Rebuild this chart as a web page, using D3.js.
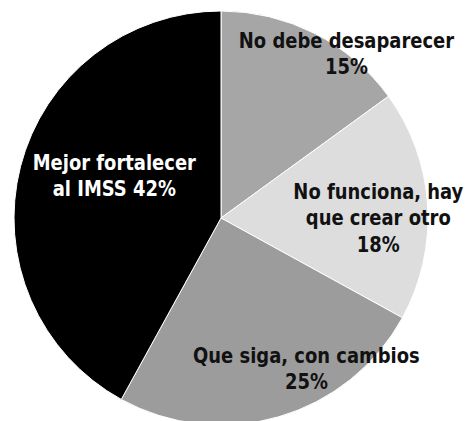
<!DOCTYPE html>
<html>
<head>
<meta charset="utf-8">
<script src="https://cdn.jsdelivr.net/npm/d3@7"></script>
<style>
  body { margin: 0; background: #fff; }
  text { font-family: "DejaVu Sans Condensed", "DejaVu Sans", sans-serif; font-weight: bold; }
</style>
</head>
<body>
<svg id="chart" width="467" height="421"></svg>
<script>
// answers, clockwise from 12 o'clock
const answers = ['No debe desaparecer', 'No funciona, hay que crear otro', 'Que siga, con cambios', 'Mejor fortalecer al IMSS'];
const shares = [15, 18, 25, 42];
// how each label is broken into lines
const labelLines = [
    ['No debe desaparecer', '15%'],
    ['No funciona, hay', 'que crear otro', '18%'],
    ['Que siga, con cambios', '25%'],
    ['Mejor fortalecer', 'al IMSS 42%']
];

const width = 467, height = 421;
const cx = 221, cy = 218, radius = 207;
const fills = ['#a6a6a6', '#dddddd', '#9c9c9c', '#000000'];
const inkColors = ['#111', '#111', '#111', '#fff'];
// label block centre: [angle in degrees, fraction of radius]
const labelPlace = [[37.3, 1.0], [90, 0.76], [150.4, 0.835], [291.8, 0.555]];
const lineH = 26.5, capH = 15;
const squeeze = 0.95; // the original face is a bit narrower than DejaVu Condensed

const svg = d3.select('#chart');
const g = svg.append('g').attr('transform', `translate(${cx},${cy})`);

const data = answers.map((a, i) => ({ answer: a, value: shares[i], i }));

const pie = d3.pie().value(d => d.value).sort(null);
const arc = d3.arc().innerRadius(0).outerRadius(radius);

g.selectAll('path.slice')
    .data(pie(data))
    .join('path')
    .attr('class', 'slice')
    .attr('d', arc)
    .attr('fill', d => fills[d.data.i])
    .attr('stroke', '#fff')
    .attr('stroke-width', 1);

const labels = g.selectAll('text.label')
    .data(data)
    .join('text')
    .attr('class', 'label')
    .attr('text-anchor', 'middle')
    .attr('font-size', '21px')
    .attr('fill', d => inkColors[d.i])
    .attr('transform', d => {
        const p = labelPlace[d.i];
        const [x, y] = d3.pointRadial(p[0] * Math.PI / 180, radius * p[1]);
        const n = labelLines[d.i].length;
        const firstBase = y - ((n - 1) * lineH - capH) / 2;
        return `translate(${x},${firstBase}) scale(${squeeze},1)`;
    });

labels.selectAll('tspan')
    .data(d => labelLines[d.i])
    .join('tspan')
    .attr('x', 0)
    .attr('y', (d, j) => j * lineH)
    .text(d => d);
</script>
</body>
</html>
